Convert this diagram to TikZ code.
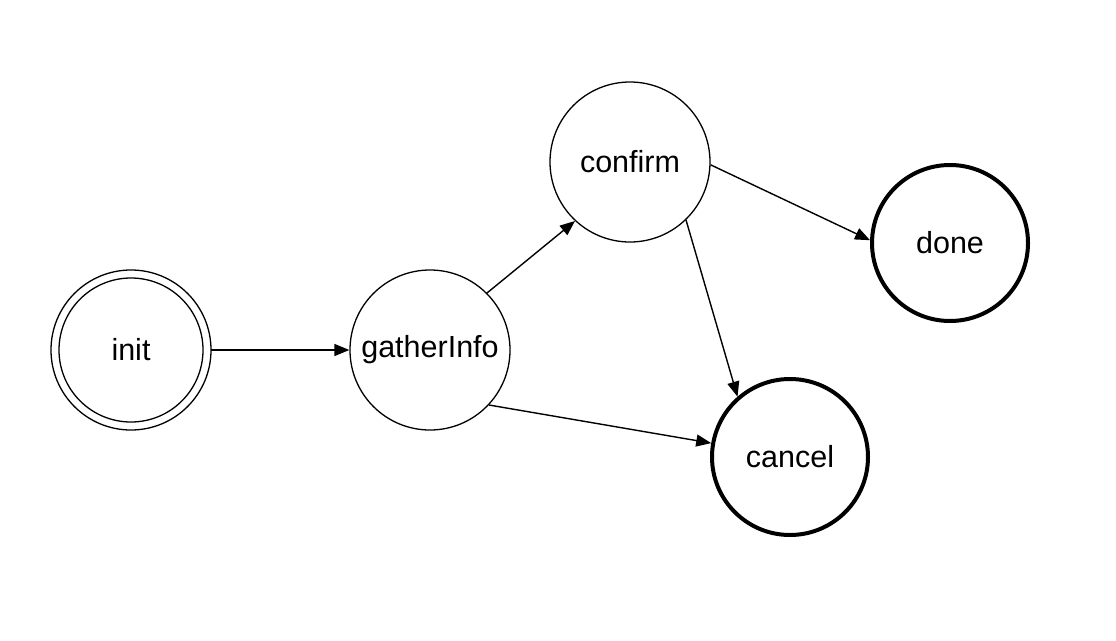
\documentclass[tikz,border=0pt]{standalone}
\usepackage{fontspec}
\setmainfont{Liberation Sans}
\usetikzlibrary{arrows.meta}
\begin{document}
\begin{tikzpicture}[x=1pt,y=-1pt,
  state/.style={circle,draw,line width=1.3pt,minimum size=160pt,inner sep=0pt,font=\fontsize{30.5}{34}\selectfont},
  final/.style={state,line width=4pt,minimum size=156pt},
  edge/.style={-{Triangle[length=15pt,width=12pt]},line width=1.4pt}]
\useasboundingbox (0,0) rectangle (1116,640);
\node[state,minimum size=144pt] (init) at (131,350) {init};
\draw[line width=1.3pt] (init) circle[radius=80pt];
\node[state] (gather) at (430,350) {gatherInfo};
\node[state] (confirm) at (630,162) {confirm};
\node[final] (done) at (950,243) {done};
\node[final] (cancel) at (790,457) {cancel};
\coordinate (initR) at ([xshift=80pt]init.center);
\draw[edge] (initR) -- (gather.180);
\draw[edge] (gather.45) -- (confirm.227);
\draw[edge] (gather.-43) -- (cancel.170);
\draw[edge] (confirm.-2) -- (done.178);
\draw[edge] (confirm.-46) -- (cancel.131);
\end{tikzpicture}
\end{document}
